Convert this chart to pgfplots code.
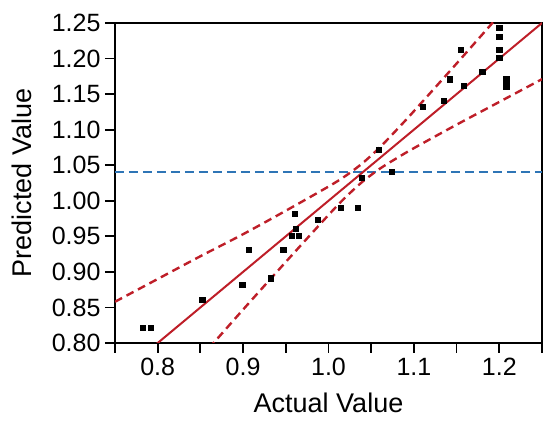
\documentclass[border=0pt]{standalone}
\usepackage{fontspec}
\setmainfont{Liberation Sans}
\usepackage{pgfplots}
\pgfplotsset{compat=1.18}
\definecolor{fitred}{RGB}{190,30,40}
\definecolor{meanblue}{RGB}{46,117,182}
\newcommand{\tickfont}{\fontsize{25}{29}\selectfont}
\begin{document}
\begin{tikzpicture}
\begin{axis}[
  at={(0,0)}, anchor=south west,
  scale only axis, width=427pt, height=320pt,
  xmin=0.75, xmax=1.25, ymin=0.80, ymax=1.25,
  xtick={0.8,0.9,1.0,1.1,1.2},
  minor xtick={0.75,0.85,0.95,1.05,1.15,1.25},
  ytick={0.80,0.85,...,1.26},
  xticklabels={0.8,0.9,1.0,1.1,1.2},
  yticklabels={0.80,0.85,0.90,0.95,1.00,1.05,1.10,1.15,1.20,1.25},
  tick align=outside, xtick pos=bottom, ytick pos=left,
  major tick length=10pt, minor tick length=10pt,
  x tick style={line width=1.8pt, black},
  y tick style={line width=1.8pt, black},
  minor x tick style={line width=1.8pt, black},
  axis line style={line width=2.6pt},
  xticklabel style={font=\tickfont, yshift=-2pt},
  yticklabel style={font=\tickfont, xshift=-1pt},
  /pgf/number format/assume math mode=true,
  xlabel={Actual Value}, ylabel={Predicted Value},
  label style={font=\fontsize{27}{31}\selectfont},
  xlabel style={at={(axis description cs:0.5,-0.2178)}, anchor=base},
  ylabel style={at={(axis description cs:-0.2178,0.5)}, anchor=center},
  clip=true,
]
\addplot[meanblue, line width=2.2pt, dash pattern=on 9pt off 5pt] coordinates {(0.75,1.04) (1.25,1.04)};
\addplot[fitred, line width=2pt] coordinates {(0.75,0.75) (1.25,1.25)};
\addplot[fitred, line width=2.4pt, dash pattern=on 8pt off 5pt, smooth] coordinates {
(0.75,0.858) (0.80,0.890) (0.85,0.922) (0.90,0.953) (0.95,0.986) (1.00,1.020) (1.02,1.035) (1.04,1.053) (1.06,1.075) (1.08,1.100) (1.10,1.126) (1.15,1.193) (1.20,1.261)};
\addplot[fitred, line width=2.4pt, dash pattern=on 8pt off 5pt, smooth] coordinates {
(0.85,0.779) (0.90,0.847) (0.95,0.914) (1.00,0.980) (1.02,1.005) (1.04,1.027) (1.06,1.045) (1.08,1.060) (1.10,1.074) (1.15,1.107) (1.20,1.139) (1.25,1.171)};
\addplot[only marks, mark=square*, mark size=2.6pt, black] coordinates {
(0.782,0.822) (0.792,0.822) (0.852,0.861) (0.899,0.882) (0.907,0.931) (0.932,0.891)
(0.947,0.931) (0.957,0.951) (0.960,0.982) (0.962,0.961) (0.965,0.951) (0.987,0.973)
(1.014,0.990) (1.034,0.990) (1.039,1.033) (1.074,1.041) (1.059,1.072) (1.110,1.132)
(1.135,1.141) (1.142,1.171) (1.155,1.213) (1.158,1.162) (1.180,1.182)
(1.200,1.243) (1.200,1.231) (1.200,1.213) (1.200,1.201) (1.208,1.171) (1.208,1.161)};
\end{axis}
\pgfresetboundingbox
\path (-115pt,-80pt) rectangle (435pt,343pt);
\end{tikzpicture}
\end{document}
